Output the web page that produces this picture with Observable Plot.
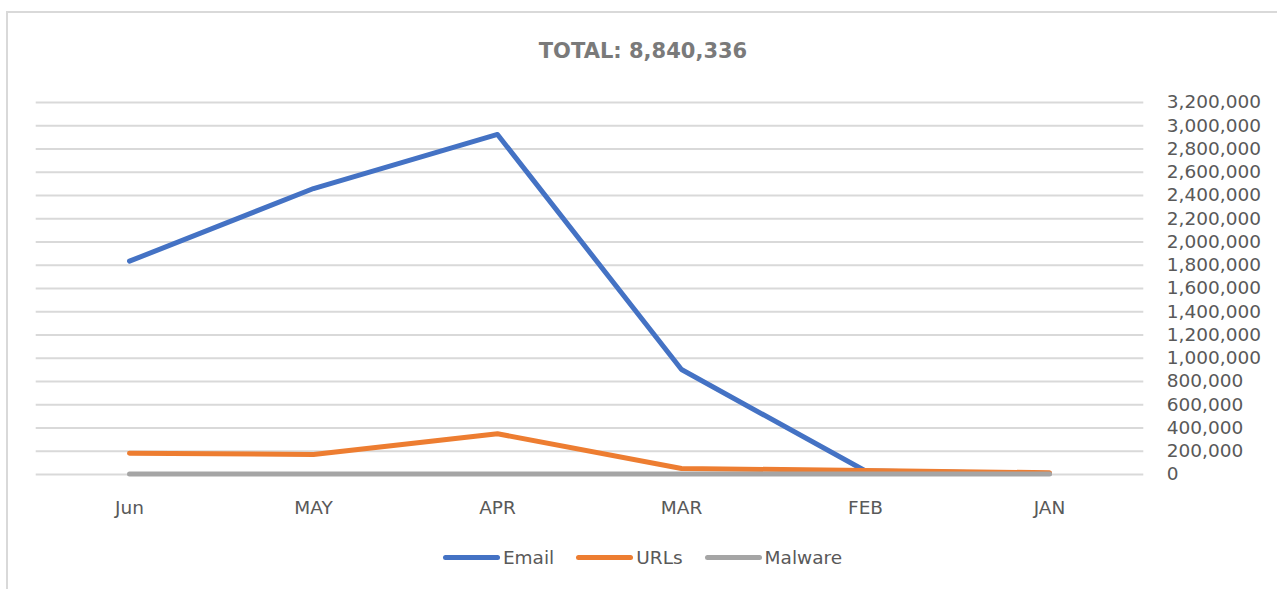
<!DOCTYPE html>
<html>
<head>
<meta charset="utf-8">
<script src="https://cdn.jsdelivr.net/npm/d3@7"></script>
<script src="https://cdn.jsdelivr.net/npm/@observablehq/plot@0.6"></script>
<style>
  html, body { margin: 0; padding: 0; background: #fff; width: 1277px; height: 589px; overflow: hidden; }
  body { position: relative; font-family: "DejaVu Sans", sans-serif; }
  #frame { position: absolute; left: 6px; top: 11px; width: 1300px; height: 620px; border: 2px solid #d9d9d9; box-sizing: border-box; }
  #chart { position: absolute; left: 0; top: 0; }
  #title { position: absolute; left: 0; top: 37px; width: 1277px; padding-left: 9px; box-sizing: border-box; text-align: center;
           font-weight: bold; font-size: 21px; color: #7a7a7a; line-height: 28px; }
  #legend { position: absolute; left: 0; top: 547px; width: 1277px; padding-left: 8px; box-sizing: border-box;
            display: flex; justify-content: center; align-items: center; gap: 22px; font-size: 18.5px; color: #595959; }
  .item { display: flex; align-items: center; gap: 3px; }
  .sw { width: 57px; height: 5px; border-radius: 3px; }
</style>
</head>
<body>
<div id="frame"></div>
<div id="chart"></div>
<div id="title"></div>
<div id="legend"></div>
<script>
const titleText = "TOTAL: 8,840,336";
const months = ["Jun", "MAY", "APR", "MAR", "FEB", "JAN"];
const seriesNames = ["Email", "URLs", "Malware"];
const seriesColors = ["#4472C4", "#ED7D31", "#A5A5A5"];
const emailValues = [1835000, 2460000, 2925000, 903000, 30000, 8000];
const urlValues = [183000, 172000, 350000, 52000, 34000, 15000];
const malwareValues = [4000, 4000, 4000, 4000, 4000, 4000];
const yTicks = [0, 200000, 400000, 600000, 800000, 1000000, 1200000, 1400000, 1600000,
                1800000, 2000000, 2200000, 2400000, 2600000, 2800000, 3000000, 3200000];

const valueLists = [emailValues, urlValues, malwareValues];
const data = [];
seriesNames.forEach((s, i) => months.forEach((m, j) => data.push({series: s, month: m, value: valueLists[i][j]})));

document.getElementById("title").textContent = titleText;

const chart = Plot.plot({
  width: 1277,
  height: 589,
  marginTop: 102,
  marginBottom: 115,
  marginLeft: 35.7,
  marginRight: 133.7,
  style: { fontFamily: "DejaVu Sans, sans-serif", fontSize: "18.5px", color: "#595959", background: "transparent" },
  x: { type: "point", domain: months, padding: 0.5, label: null },
  y: { domain: [0, 3200000], label: null },
  color: { domain: seriesNames, range: seriesColors },
  marks: [
    Plot.gridY(yTicks, { stroke: "#d9d9d9", strokeOpacity: 1, strokeWidth: 2 }),
    Plot.axisY({ anchor: "right", ticks: yTicks, tickFormat: d3.format(","), tickSize: 0, tickPadding: 23, textAnchor: "start", label: null, fill: "#595959" }),
    Plot.axisX({ anchor: "bottom", tickSize: 0, tickPadding: 26, label: null, fill: "#595959" }),
    Plot.lineY(data, { x: "month", y: "value", z: "series", stroke: "series", strokeWidth: 5, strokeLinecap: "round", strokeLinejoin: "round" })
  ]
});
document.getElementById("chart").appendChild(chart);

const legend = document.getElementById("legend");
seriesNames.forEach((s, i) => {
  const item = document.createElement("div");
  item.className = "item";
  const sw = document.createElement("div");
  sw.className = "sw";
  sw.style.background = seriesColors[i];
  const t = document.createElement("span");
  t.textContent = s;
  item.appendChild(sw);
  item.appendChild(t);
  legend.appendChild(item);
});
</script>
</body>
</html>
